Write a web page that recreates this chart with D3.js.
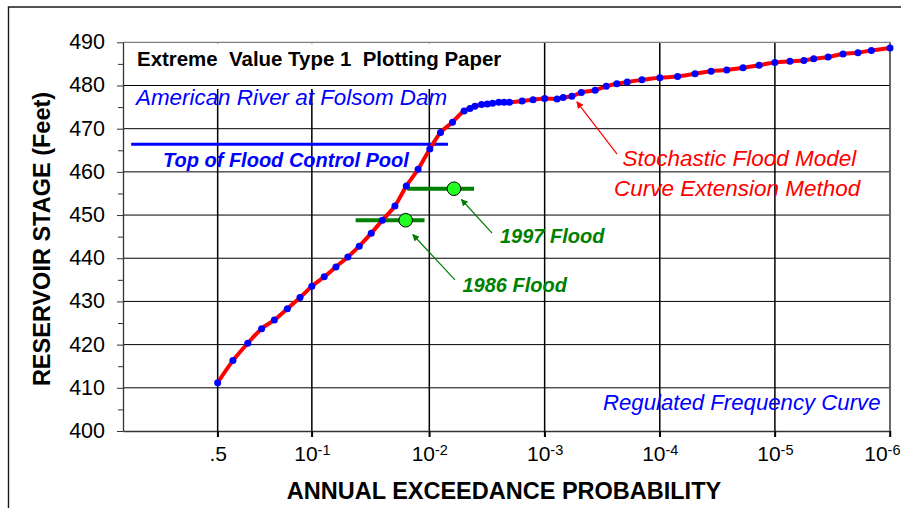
<!DOCTYPE html>
<html>
<head>
<meta charset="utf-8">
<script src="https://cdn.jsdelivr.net/npm/d3@7"></script>
<style>
  html, body { margin: 0; padding: 0; background: #fff; }
  svg { display: block; font-family: "Liberation Sans", Arial, Helvetica, sans-serif; }
</style>
</head>
<body>
<svg id="chart" width="901" height="508"></svg>
<script>
// Regulated stage-frequency curve, American River at Folsom Dam
// Annual exceedance probability of each computed point
const aep = [
  0.5, 0.4, 0.316, 0.25, 0.2, 0.158, 0.125, 0.1, 0.079, 0.063,
  0.05, 0.04, 0.0316, 0.0254, 0.0198, 0.0158, 0.0125, 0.0099, 0.008, 0.0063,
  0.005, 0.00445, 0.00403, 0.00353, 0.00315, 0.00283, 0.0025, 0.00225, 0.00202, 0.00157,
  0.00126, 0.001, 0.00078, 0.00069, 0.00058, 0.00048, 0.000364, 0.000292, 0.000236, 0.000192,
  0.000143, 0.0001, 0.00007, 0.0000494, 0.0000358, 0.0000262, 0.0000189, 0.0000137, 0.00001, 0.0000074,
  0.0000056, 0.0000046, 0.00000345, 0.00000256, 0.0000019, 0.00000145, 0.000001
];
// Reservoir stage (feet) at each of those probabilities
const stage = [
  411.2, 416.3, 420.3, 423.7, 425.7, 428.3, 430.9, 433.5, 435.7, 438.0,
  440.3, 442.8, 445.8, 448.8, 452.1, 456.7, 460.6, 465.3, 469.1, 471.5,
  474.1, 474.7, 475.2, 475.6, 475.7, 475.9, 476.1, 476.1, 476.1, 476.4,
  476.7, 477.0, 476.9, 477.2, 477.5, 478.4, 478.9, 479.8, 480.4, 480.8,
  481.3, 481.8, 482.1, 482.7, 483.3, 483.6, 484.1, 484.7, 485.3, 485.6,
  485.8, 486.2, 486.6, 487.3, 487.6, 488.1, 488.7
];

// Historic floods: plotted probability, stage and probability range
const floodName = ["1986 Flood", "1997 Flood"];
const floodAep = [0.016, 0.00612];
const floodStage = [448.8, 456.1];
const floodAepHigh = [0.0429, 0.0155];
const floodAepLow = [0.0110, 0.0041];

// Top of flood control pool
const poolStage = 466.4;
const poolAepRange = [0.98, 0.0069];

// Axis ticks
const stageTicks = [400, 410, 420, 430, 440, 450, 460, 470, 480, 490];
const stageMinorTicks = [405, 415, 425, 435, 445, 455, 465, 475, 485];
const aepTicks = [0.5, 1e-1, 1e-2, 1e-3, 1e-4, 1e-5, 1e-6];
const aepTickBase = [".5", "10", "10", "10", "10", "10", "10"];
const aepTickExp = ["", "-1", "-2", "-3", "-4", "-5", "-6"];

// Extreme Value Type 1 (Gumbel) reduced variate
const gumbel = p => -Math.log(-Math.log1p(-p));

const svg = d3.select("#chart");
const W = 901, H = 508;
const plot = { left: 123, right: 890, top: 42.3, bottom: 431 };

const x = d3.scaleLinear()
  .domain([gumbel(0.99), gumbel(1e-6)])
  .range([plot.left, plot.right]);
const y = d3.scaleLinear()
  .domain([400, 490])
  .range([plot.bottom, plot.top]);
const px = p => x(gumbel(p));

svg.append("rect").attr("width", W).attr("height", H).attr("fill", "#fff");

// outer chart frame
svg.append("path")
  .attr("d", `M8.5,${H + 2} V7 H${W + 2}`)
  .attr("fill", "none").attr("stroke", "#1a1a1a").attr("stroke-width", 1.4);

// vertical grid lines at each probability tick
svg.append("g")
  .selectAll("line").data(aepTicks).join("line")
  .attr("x1", d => px(d)).attr("x2", d => px(d))
  .attr("y1", plot.top).attr("y2", plot.bottom + 6)
  .attr("stroke", "#000").attr("stroke-width", 1.5);

// title block (white background over the top of the grid)
svg.append("rect")
  .attr("x", plot.left + 1).attr("y", plot.top + 1)
  .attr("width", 392).attr("height", y(479.2) - plot.top - 1)
  .attr("fill", "#fff");

// horizontal grid lines
svg.append("g")
  .selectAll("line").data(stageTicks.filter(v => v > 400 && v < 490)).join("line")
  .attr("x1", plot.left).attr("x2", plot.right)
  .attr("y1", d => y(d)).attr("y2", d => y(d))
  .attr("stroke", "#000").attr("stroke-width", 1);

// plot frame (top and right)
svg.append("path")
  .attr("d", `M${plot.left},${plot.top} H${plot.right} V${plot.bottom}`)
  .attr("fill", "none").attr("stroke", "#808080").attr("stroke-width", 1.3);

// Y axis
const yAxis = svg.append("g")
  .attr("transform", `translate(${plot.left},0)`)
  .call(d3.axisLeft(y).tickValues(stageTicks).tickSize(6).tickSizeOuter(0).tickPadding(12).tickFormat(d3.format("d")));
yAxis.select(".domain").attr("stroke", "#333").attr("stroke-width", 1.3);
yAxis.selectAll(".tick line").attr("stroke", "#333");
yAxis.selectAll(".tick text")
  .attr("font-size", 21.5).attr("font-family", "Liberation Sans, Arial, sans-serif")
  .attr("fill", "#000").attr("dy", "0.3em");
svg.append("g")
  .attr("transform", `translate(${plot.left},0)`)
  .call(d3.axisLeft(y).tickValues(stageMinorTicks).tickSize(5).tickFormat(""))
  .call(g => g.select(".domain").remove())
  .selectAll(".tick line").attr("stroke", "#333");

// X axis
const xAxis = svg.append("g")
  .attr("transform", `translate(0,${plot.bottom})`)
  .call(d3.axisBottom(x).tickValues(aepTicks.map(gumbel)).tickSize(6).tickSizeOuter(0).tickPadding(9.5).tickFormat(""));
xAxis.select(".domain").attr("stroke", "#333").attr("stroke-width", 1.3);
xAxis.selectAll(".tick line").attr("stroke", "#000").attr("stroke-width", 1.5);
xAxis.selectAll(".tick text").each(function (d, i) {
  const t = d3.select(this)
    .attr("font-size", 21).attr("font-family", "Liberation Sans, Arial, sans-serif")
    .attr("fill", "#000").attr("text-anchor", "middle");
  t.append("tspan").text(aepTickBase[i]);
  if (aepTickExp[i]) {
    t.append("tspan").attr("font-size", 14.5).attr("dy", "-0.42em").text(aepTickExp[i]);
  }
  // keep the last label inside the chart's right edge
  const tickX = x(d);
  const bb = this.getBBox();
  const overflow = tickX + bb.x + bb.width - (W - 1);
  if (overflow > 0) t.attr("x", -overflow);
});

// axis titles
svg.append("text")
  .attr("x", 504).attr("y", 498.5)
  .attr("text-anchor", "middle").attr("font-size", 23.5).attr("font-weight", "bold")
  .text("ANNUAL EXCEEDANCE PROBABILITY");
svg.append("text")
  .attr("transform", "translate(50,239) rotate(-90)")
  .attr("text-anchor", "middle").attr("font-size", 23.5).attr("font-weight", "bold")
  .text("RESERVOIR STAGE (Feet)");

// arrowhead markers
const defs = svg.append("defs");
[["arrRed", "#ff0000"], ["arrGreen", "#007a00"]].forEach(([id, c]) => {
  defs.append("marker")
    .attr("id", id).attr("viewBox", "0 0 10 10").attr("refX", 9).attr("refY", 5)
    .attr("markerWidth", 7).attr("markerHeight", 7).attr("markerUnits", "userSpaceOnUse")
    .attr("orient", "auto")
    .append("path").attr("d", "M0,0 L10,5 L0,10 z").attr("fill", c);
});

// top of flood control pool
svg.append("line")
  .attr("x1", px(poolAepRange[0])).attr("x2", px(poolAepRange[1]))
  .attr("y1", y(poolStage)).attr("y2", y(poolStage))
  .attr("stroke", "#0000ff").attr("stroke-width", 3);

// historic flood ranges and points
const floods = floodName.map((n, i) => ({
  name: n, p: floodAep[i], s: floodStage[i], hi: floodAepHigh[i], lo: floodAepLow[i]
}));
svg.append("g").selectAll("line").data(floods).join("line")
  .attr("x1", d => px(d.hi)).attr("x2", d => px(d.lo))
  .attr("y1", d => y(d.s)).attr("y2", d => y(d.s))
  .attr("stroke", "#008000").attr("stroke-width", 4);

// frequency curve
const pts = aep.map((p, i) => ({ p, s: stage[i] }));
svg.append("path")
  .datum(pts)
  .attr("d", d3.line().x(d => px(d.p)).y(d => y(d.s)).curve(d3.curveMonotoneX))
  .attr("fill", "none").attr("stroke", "#ff0000").attr("stroke-width", 4)
  .attr("stroke-linejoin", "round");
svg.append("g").selectAll("circle").data(pts).join("circle")
  .attr("cx", d => px(d.p)).attr("cy", d => y(d.s)).attr("r", 3.5)
  .attr("fill", "#0000ff");

svg.append("g").selectAll("circle").data(floods).join("circle")
  .attr("cx", d => px(d.p)).attr("cy", d => y(d.s)).attr("r", 6.8)
  .attr("fill", "#22ff22").attr("stroke", "#000").attr("stroke-width", 1);

// annotation arrows (tail -> head, in probability / stage units)
const arrows = [
  { from: [0.000235, 464.1], to: [0.000525, 476.2], m: "arrRed", c: "#ff0000" },
  { from: [0.00286, 445.8], to: [0.00527, 453.6], m: "arrGreen", c: "#007a00" },
  { from: [0.006, 435.0], to: [0.0139, 445.5], m: "arrGreen", c: "#007a00" }
];
svg.append("g").selectAll("line").data(arrows).join("line")
  .attr("x1", d => px(d.from[0])).attr("y1", d => y(d.from[1]))
  .attr("x2", d => px(d.to[0])).attr("y2", d => y(d.to[1]))
  .attr("stroke", d => d.c).attr("stroke-width", 1.2)
  .attr("marker-end", d => `url(#${d.m})`);

// labels
function label(txt, xPos, yPos, opts) {
  return svg.append("text")
    .attr("x", xPos).attr("y", yPos)
    .attr("font-size", opts.size)
    .attr("font-weight", opts.bold ? "bold" : "normal")
    .attr("font-style", opts.italic ? "italic" : "normal")
    .attr("fill", opts.color)
    .attr("xml:space", "preserve").style("white-space", "pre")
    .text(txt);
}
label("Extreme  Value Type 1  Plotting Paper", 137, 65.7, { size: 20.45, bold: true, color: "#000" });
label("American River at Folsom Dam", 136, 105, { size: 22.4, italic: true, color: "#0000ff" });
label("Top of Flood Control Pool", 163, 166.7, { size: 20, bold: true, italic: true, color: "#0000ff" });
label("Stochastic Flood Model", 622.5, 165.7, { size: 22.5, italic: true, color: "#ff0000" });
label("Curve Extension Method", 614, 196, { size: 22.5, italic: true, color: "#ff0000" });
label("1997 Flood", 500, 243.3, { size: 20, bold: true, italic: true, color: "#008000" });
label("1986 Flood", 462.5, 291.7, { size: 20, bold: true, italic: true, color: "#008000" });
label("Regulated Frequency Curve", 603, 410, { size: 22.2, italic: true, color: "#0000ff" });
</script>
</body>
</html>
